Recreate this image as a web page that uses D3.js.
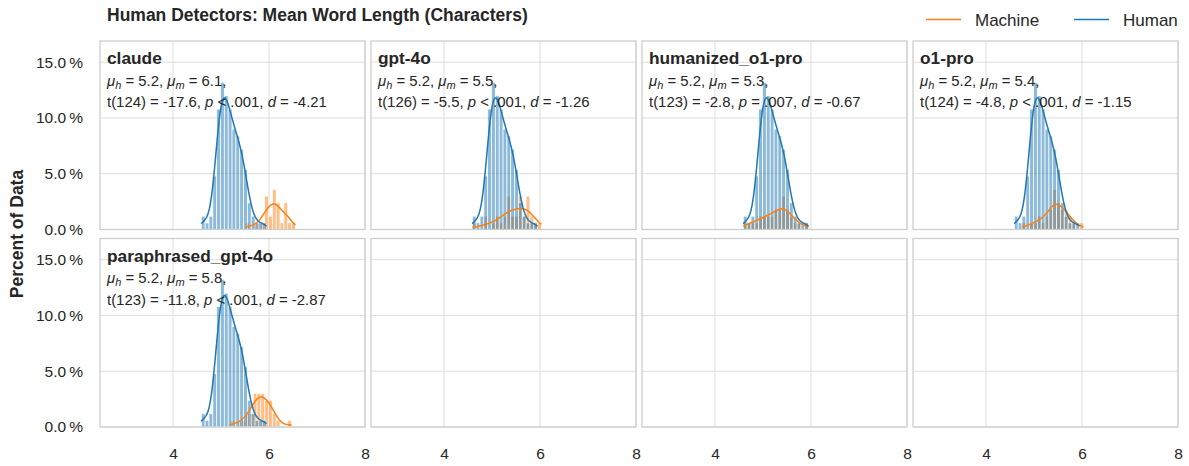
<!DOCTYPE html>
<html lang="en">
<head>
  <meta charset="UTF-8">
  <title>Human Detectors: Mean Word Length (Characters)</title>
  <script src="https://d3js.org/d3.v7.min.js"></script>
  <style type="text/css">
    body { margin: 0; background: #fff; }
    svg { font-family: "Liberation Sans", Arial, Helvetica, sans-serif; }
    .grid { stroke: #dddddd; stroke-width: 1; }
    .frame { fill: none; stroke: #cccccc; stroke-width: 1.25; }
    .axis text { font-size: 15.5px; fill: #262626; font-family: "Liberation Sans", Arial, sans-serif; }
  </style>
</head>
<body>
<script type="text/javascript">
  // panels and their stats
  var panelNames = ["claude", "gpt-4o", "humanized_o1-pro", "o1-pro", "paraphrased_gpt-4o"];
  var humanMean = [5.2, 5.2, 5.2, 5.2, 5.2];
  var machineMean = [6.1, 5.5, 5.3, 5.4, 5.8];
  var tDf = [124, 126, 123, 124, 123];
  var tValue = ["-17.6", "-5.5", "-2.8", "-4.8", "-11.8"];
  var pValue = ["< .001", "< .001", "= .007", "< .001", "< .001"];
  var dValue = ["-4.21", "-1.26", "-0.67", "-1.15", "-2.87"];

  // histogram bins (percent of data), bin width in characters
  var binWidth = 0.08;
  var pctPerDoc = 0.6;
  var humanStart = 4.59;
  var humanPct = [1.2, 0.6, 1.2, 4.8, 10.8, 13.2, 12.0, 10.8, 9.0, 8.4, 7.2, 5.4, 2.4, 1.2, 0.6, 0.6, 0.6];

  var machineStart = [5.51, 4.59, 4.59, 4.59, 5.19];
  var machineClaude = [0.6, 0, 0.6, 0.6, 0.6, 3.0, 1.2, 3.6, 2.4, 0.6, 2.4, 0.6, 0.6];
  var machineGpt4o = [0.6, 0, 0, 1.2, 0, 0.6, 1.2, 0.6, 1.2, 3.0, 1.2, 1.2, 3.0, 1.2, 3.0, 1.2, 0.6, 0.6];
  var machineHumanizedO1 = [0.6, 0.6, 0.6, 0.6, 1.2, 1.2, 1.2, 1.2, 1.8, 1.8, 3.0, 1.8, 1.2, 0.6, 0.6, 0, 0.6];
  var machineO1 = [0, 0, 0.6, 0, 0.6, 0.6, 1.2, 0.6, 1.2, 1.8, 3.6, 2.4, 1.8, 1.8, 1.2, 0.6, 0, 0.6];
  var machineParaGpt4o = [0.6, 0, 0.6, 0.6, 1.2, 1.2, 3.0, 3.0, 3.0, 2.4, 2.4, 1.2, 0.6, 0, 0, 0.6];
  var machinePct = [machineClaude, machineGpt4o, machineHumanizedO1, machineO1, machineParaGpt4o];

  var xTicks = [4, 6, 8];
  var yTicks = [0, 5, 10, 15];
  var legendNames = ["Machine", "Human"];

  var colorHuman = "#1f77b4";
  var colorMachine = "#ff7f0e";

  //Width and height
  var w = 1189;
  var h = 466;
  var marginLeft = 100;
  var marginTop = 41;
  var panelW = 265;
  var panelH = 188.5;
  var gapX = 6;
  var gapY = 9;

  var svg = d3.select("body")
    .append("svg")
    .attr("width", w)
    .attr("height", h);

  var xScale = d3.scaleLinear().domain([2.48, 8]).range([0, panelW]);
  var yScale = d3.scaleLinear().domain([0, 16.9]).range([panelH, 0]);

  // kde scaled to the histogram (gaussian kernel, scott bandwidth, cut at data range)
  function kdePoints(start, pct) {
    var centers = pct.map(function(v, i) { return start + (i + 0.5) * binWidth; });
    var total = d3.sum(pct);
    var mean = d3.sum(pct, function(v, i) { return v * centers[i]; }) / total;
    var sd = Math.sqrt(d3.sum(pct, function(v, i) { return v * Math.pow(centers[i] - mean, 2); }) / total);
    var bw = sd * Math.pow(total / pctPerDoc, -0.2);
    var first = pct.findIndex(function(v) { return v > 0; });
    var last = pct.length - 1 - pct.slice().reverse().findIndex(function(v) { return v > 0; });
    var lo = start + first * binWidth, hi = start + (last + 1) * binWidth;
    return d3.range(0, 121).map(function(j) {
      var x = lo + (hi - lo) * j / 120;
      var s = d3.sum(pct, function(v, i) {
        var z = (x - centers[i]) / bw;
        return v * Math.exp(-0.5 * z * z);
      });
      return [x, s * binWidth / (bw * Math.sqrt(2 * Math.PI))];
    });
  }

  var line = d3.line()
    .x(function(d) { return xScale(d[0]); })
    .y(function(d) { return yScale(d[1]); });

  function drawBars(g, start, pct, color) {
    g.append("g").selectAll("rect")
      .data(pct.map(function(v, i) { return { x0: start + i * binWidth, v: v }; })
        .filter(function(d) { return d.v > 0; }))
      .enter()
      .append("rect")
      .attr("x", function(d) { return xScale(d.x0); })
      .attr("width", function(d) { return xScale(d.x0 + binWidth) - xScale(d.x0); })
      .attr("y", function(d) { return yScale(d.v); })
      .attr("height", function(d) { return yScale(0) - yScale(d.v); })
      .attr("fill", color)
      .attr("stroke", "#fff")
      .attr("stroke-width", 0.8)
      .attr("opacity", 0.5);
  }

  function drawPanel(g, k) {
    drawBars(g, machineStart[k], machinePct[k], colorMachine);
    drawBars(g, humanStart, humanPct, colorHuman);

    g.append("path")
      .attr("d", line(kdePoints(machineStart[k], machinePct[k])))
      .attr("fill", "none")
      .attr("stroke", colorMachine)
      .attr("stroke-width", 1.5);
    g.append("path")
      .attr("d", line(kdePoints(humanStart, humanPct)))
      .attr("fill", "none")
      .attr("stroke", colorHuman)
      .attr("stroke-width", 1.5);

    g.append("text")
      .attr("x", 7)
      .attr("y", 23)
      .attr("font-size", "17.3px")
      .attr("font-weight", "bold")
      .attr("fill", "#262626")
      .text(panelNames[k]);

    var l1 = g.append("text")
      .attr("x", 7)
      .attr("y", 44.5)
      .attr("font-size", "14.9px")
      .attr("fill", "#262626");
    l1.append("tspan").attr("font-style", "italic").text("\u03bc");
    l1.append("tspan").attr("font-style", "italic").attr("font-size", "11px").attr("dy", 3).text("h");
    l1.append("tspan").attr("dy", -3).text(" = " + humanMean[k].toFixed(1) + ", ");
    l1.append("tspan").attr("font-style", "italic").text("\u03bc");
    l1.append("tspan").attr("font-style", "italic").attr("font-size", "11px").attr("dy", 3).text("m");
    l1.append("tspan").attr("dy", -3).text(" = " + machineMean[k].toFixed(1) + ",");

    var l2 = g.append("text")
      .attr("x", 7)
      .attr("y", 66)
      .attr("font-size", "14.9px")
      .attr("fill", "#262626");
    l2.append("tspan").text("t(" + tDf[k] + ") = " + tValue[k] + ", ");
    l2.append("tspan").attr("font-style", "italic").text("p");
    l2.append("tspan").text(" " + pValue[k] + ", ");
    l2.append("tspan").attr("font-style", "italic").text("d");
    l2.append("tspan").text(" = " + dValue[k]);
  }

  for (var k = 0; k < 8; k++) {
    var col = k % 4, row = Math.floor(k / 4);
    var g = svg.append("g")
      .attr("transform", "translate(" + (marginLeft + col * (panelW + gapX)) + "," + (marginTop + row * (panelH + gapY)) + ")");

    g.selectAll(".vgrid").data(xTicks).enter().append("line")
      .attr("class", "grid")
      .attr("x1", function(d) { return xScale(d); })
      .attr("x2", function(d) { return xScale(d); })
      .attr("y1", 0).attr("y2", panelH);
    g.selectAll(".hgrid").data(yTicks).enter().append("line")
      .attr("class", "grid")
      .attr("x1", 0).attr("x2", panelW)
      .attr("y1", function(d) { return yScale(d); })
      .attr("y2", function(d) { return yScale(d); });

    if (k < panelNames.length) drawPanel(g, k);

    g.append("rect")
      .attr("class", "frame")
      .attr("width", panelW)
      .attr("height", panelH);

    if (row == 1) {
      var xa = g.append("g")
        .attr("class", "axis")
        .attr("transform", "translate(0," + panelH + ")")
        .call(d3.axisBottom(xScale).tickValues(xTicks).tickSize(0).tickPadding(21)
          .tickFormat(d3.format("d")));
      xa.select(".domain").remove();
    }
    if (col == 0) {
      var ya = g.append("g")
        .attr("class", "axis")
        .call(d3.axisLeft(yScale).tickValues(yTicks).tickSize(0).tickPadding(17)
          .tickFormat(function(d) { return d.toFixed(1) + "\u2009%"; }));
      ya.select(".domain").remove();
    }
  }
  svg.selectAll(".axis").attr("font-size", null).attr("font-family", null);

  // title
  svg.append("text")
    .attr("x", 107)
    .attr("y", 21)
    .attr("font-size", "17.5px")
    .attr("font-weight", "bold")
    .attr("fill", "#262626")
    .text("Human Detectors: Mean Word Length (Characters)");

  // y label
  svg.append("text")
    .attr("transform", "translate(23," + (marginTop + panelH + gapY / 2) + ") rotate(-90)")
    .attr("text-anchor", "middle")
    .attr("font-size", "17.5px")
    .attr("font-weight", "bold")
    .attr("fill", "#262626")
    .text("Percent of Data");

  // legend
  var legendX = [926, 1074];
  var legendColors = [colorMachine, colorHuman];
  legendNames.forEach(function(name, i) {
    svg.append("line")
      .attr("x1", legendX[i]).attr("x2", legendX[i] + 35)
      .attr("y1", 19.5).attr("y2", 19.5)
      .attr("stroke", legendColors[i])
      .attr("stroke-width", 1.5);
    svg.append("text")
      .attr("x", legendX[i] + 49)
      .attr("y", 25.5)
      .attr("font-size", "17px")
      .attr("fill", "#262626")
      .text(name);
  });
</script>
</body>
</html>
